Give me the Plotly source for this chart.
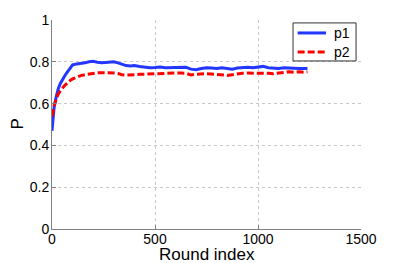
import plotly.graph_objects as go

rounds = [0, 5, 10, 20, 30, 40, 50, 60, 70, 80, 90, 100, 120, 140, 160, 180, 200, 220, 240, 260,
          280, 300, 320, 340, 360, 380, 400, 425, 450, 475, 500, 525, 550, 575, 600, 625, 650,
          675, 700, 725, 750, 775, 800, 825, 850, 875, 900, 925, 950, 975, 1000, 1025, 1050,
          1075, 1100, 1125, 1150, 1175, 1200, 1225, 1240]

p1 = [0.47, 0.53, 0.58, 0.63, 0.67, 0.695, 0.715, 0.73, 0.745, 0.76, 0.775, 0.785, 0.79, 0.792,
      0.795, 0.80, 0.802, 0.798, 0.795, 0.797, 0.80, 0.80, 0.795, 0.788, 0.782, 0.78, 0.782,
      0.778, 0.775, 0.772, 0.773, 0.775, 0.772, 0.773, 0.775, 0.776, 0.774, 0.765, 0.762,
      0.768, 0.772, 0.77, 0.768, 0.772, 0.768, 0.765, 0.77, 0.772, 0.774, 0.771, 0.775, 0.778,
      0.772, 0.77, 0.768, 0.772, 0.77, 0.768, 0.768, 0.768, 0.768]

p2 = [0.54, 0.565, 0.59, 0.62, 0.645, 0.66, 0.675, 0.685, 0.695, 0.705, 0.712, 0.718, 0.728,
      0.734, 0.738, 0.742, 0.745, 0.747, 0.748, 0.748, 0.748, 0.747, 0.744, 0.738, 0.736,
      0.736, 0.738, 0.74, 0.741, 0.742, 0.742, 0.742, 0.743, 0.745, 0.746, 0.747, 0.745,
      0.737, 0.74, 0.742, 0.743, 0.742, 0.74, 0.738, 0.735, 0.738, 0.742, 0.745, 0.746, 0.746,
      0.748, 0.747, 0.745, 0.743, 0.745, 0.75, 0.752, 0.75, 0.752, 0.75, 0.752]

series_names = ["p1", "p2"]
xticks = [0, 500, 1000, 1500]
yticks = [0, 0.2, 0.4, 0.6, 0.8, 1]
x_title = "Round index"
y_title = "P"

font_family = "Liberation Sans, Arial, sans-serif"
styles = [dict(color="rgb(35,55,255)", width=3),
          dict(color="rgb(255,0,0)", width=3, dash="7px,3px")]

fig = go.Figure()
for name, vals, st in zip(series_names, [p1, p2], styles):
    fig.add_trace(go.Scatter(x=rounds, y=vals, mode="lines", name=name, line=st,
                             showlegend=False))

axis_common = dict(showgrid=True, gridcolor="#c8c8c8", griddash="dot", gridwidth=1,
                   showline=True, linecolor="#808080", linewidth=1,
                   ticks="inside", ticklen=4, tickcolor="#808080", automargin=False,
                   zeroline=False, tickfont=dict(size=14, color="black", family=font_family))

fig.update_xaxes(range=[0, 1500], tickvals=xticks, ticktext=[str(v) for v in xticks],
                 ticklabelstandoff=-3, **axis_common)
fig.update_yaxes(range=[0, 1], tickvals=yticks, ticktext=["0", "0.2", "0.4", "0.6", "0.8", "1"],
                 ticklabelstandoff=-1, **axis_common)

fig.add_annotation(text=x_title, xref="paper", yref="paper", x=0.5, y=0,
                   yshift=-25, xanchor="center", yanchor="middle", showarrow=False,
                   font=dict(size=17, color="black", family=font_family))
fig.add_annotation(text=y_title, xref="paper", yref="paper", x=0, y=0.5,
                   xshift=-35, xanchor="center", yanchor="middle", showarrow=False,
                   textangle=-90, font=dict(size=17, color="black", family=font_family))

# compact legend box (MATLAB style) drawn in paper coordinates
fig.add_shape(type="rect", xref="paper", yref="paper", x0=0.780, x1=0.984, y0=0.804, y1=0.986,
              line=dict(color="#333333", width=1), fillcolor="white", layer="above")
for i, (name, st) in enumerate(zip(series_names, styles)):
    yy = 0.938 - i * 0.091
    fig.add_shape(type="line", xref="paper", yref="paper", x0=0.795, x1=0.887, y0=yy, y1=yy,
                  line=st, layer="above")
    fig.add_annotation(text=name, xref="paper", yref="paper", x=0.905, y=yy,
                       xanchor="left", yanchor="middle", showarrow=False,
                       font=dict(size=14, color="black", family=font_family))

fig.update_layout(
    width=391, height=255,
    margin=dict(l=44, r=38, t=12, b=34),
    plot_bgcolor="white", paper_bgcolor="white",
    font=dict(family=font_family, size=14, color="black"),
    showlegend=False,
)

fig.write_html("out.html")
